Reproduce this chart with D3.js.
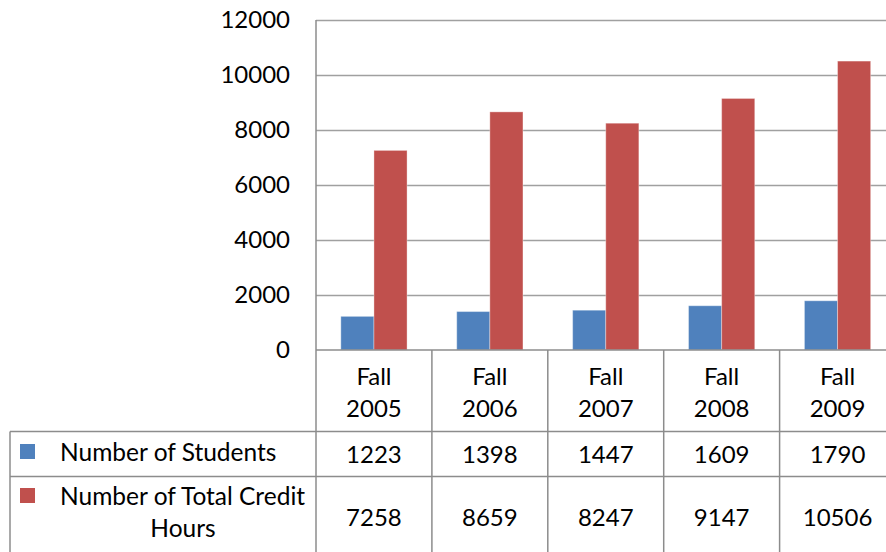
<!DOCTYPE html>
<html>
<head>
<meta charset="utf-8">
<script src="https://cdn.jsdelivr.net/npm/d3@7"></script>
<style>
    body { margin: 0; background: #fff; }
    svg { display: block; font-family: Lato, "Noto Sans", sans-serif; }
</style>
</head>
<body>
<div id="chart-container"></div>
<script>
const categories = ['Fall 2005', 'Fall 2006', 'Fall 2007', 'Fall 2008', 'Fall 2009'];
const seriesNames = ['Number of Students', 'Number of Total Credit Hours'];
const studentCounts = [1223, 1398, 1447, 1609, 1790];
const creditHours = [7258, 8659, 8247, 9147, 10506];
const yTicks = [0, 2000, 4000, 6000, 8000, 10000, 12000];
const seriesColors = ['#4f81bd', '#c0504d'];

const width = 886;
const height = 552;
const plotLeft = 316;
const plotRight = 895.5;
const plotTop = 20;
const plotBottom = 350;
const tableLeft = 10;
const rowLines = [431.5, 476.5, 556];
const fontSize = 24;
const legendFontSize = 24.5;
const gridColor = '#a0a0a0';
const lineColor = '#8c8c8c';

const svg = d3.select('#chart-container')
    .append('svg')
    .attr('width', width)
    .attr('height', height);

const x = d3.scaleBand()
    .domain(categories)
    .range([plotLeft, plotRight]);

const xSeries = d3.scaleBand()
    .domain(seriesNames)
    .range([0, x.bandwidth()])
    .paddingOuter(0.75);

const y = d3.scaleLinear()
    .domain([0, 12000])
    .range([plotBottom, plotTop]);

// gridlines
svg.append('g')
    .selectAll('line')
    .data(yTicks.slice(1))
    .join('line')
    .attr('x1', plotLeft)
    .attr('x2', width)
    .attr('y1', d => Math.round(y(d)) + 0.5)
    .attr('y2', d => Math.round(y(d)) + 0.5)
    .attr('stroke', gridColor)
    .attr('stroke-width', 1.5);

// y axis labels
const yAxis = d3.axisLeft(y)
    .tickValues(yTicks)
    .tickFormat(d3.format('d'))
    .tickSize(0)
    .tickPadding(26);
svg.append('g')
    .attr('transform', `translate(${plotLeft},0)`)
    .call(yAxis)
    .call(g => g.select('.domain').remove())
    .call(g => g.selectAll('text')
        .attr('font-size', fontSize)
        .attr('font-family', 'Lato, sans-serif')
        .attr('fill', '#000'));

// bars
const seriesData = [studentCounts, creditHours];
seriesNames.forEach((name, s) => {
    svg.append('g')
        .selectAll('rect')
        .data(categories)
        .join('rect')
        .attr('x', (d, i) => x(d) + xSeries(name))
        .attr('y', (d, i) => y(seriesData[s][i]))
        .attr('width', xSeries.bandwidth())
        .attr('height', (d, i) => plotBottom - y(seriesData[s][i]))
        .attr('fill', seriesColors[s])
        .attr('stroke', '#fff')
        .attr('stroke-opacity', 0.35)
        .attr('stroke-width', 1);
});

// table lines
const table = svg.append('g')
    .attr('stroke', lineColor)
    .attr('stroke-width', 1.5);

table.append('line')
    .attr('x1', plotLeft).attr('x2', width)
    .attr('y1', plotBottom).attr('y2', plotBottom);

rowLines.forEach(ly => {
    table.append('line')
        .attr('x1', tableLeft).attr('x2', width)
        .attr('y1', ly).attr('y2', ly);
});

table.append('line')
    .attr('x1', tableLeft).attr('x2', tableLeft)
    .attr('y1', rowLines[0]).attr('y2', height);

table.append('line')
    .attr('x1', plotLeft).attr('x2', plotLeft)
    .attr('y1', plotTop).attr('y2', height);

table.selectAll('.cat-line')
    .data(categories.slice(1))
    .join('line')
    .attr('class', 'cat-line')
    .attr('x1', d => x(d)).attr('x2', d => x(d))
    .attr('y1', plotBottom).attr('y2', height);

// category labels
const catLabels = svg.append('g')
    .attr('font-size', fontSize)
    .attr('text-anchor', 'middle');

categories.forEach(c => {
    const parts = c.split(' ');
    const t = catLabels.append('text')
        .attr('dominant-baseline', 'central');
    parts.forEach((p, i) => {
        t.append('tspan')
            .attr('x', x(c) + x.bandwidth() / 2)
            .attr('y', 375 + i * 32)
            .text(p);
    });
});

// value cells
const rowCenters = [453, 516];
seriesData.forEach((values, s) => {
    svg.append('g')
        .attr('font-size', fontSize)
        .attr('text-anchor', 'middle')
        .selectAll('text')
        .data(values)
        .join('text')
        .attr('x', (d, i) => x(categories[i]) + x.bandwidth() / 2)
        .attr('y', rowCenters[s])
        .attr('dominant-baseline', 'central')
        .text(d => d);
});

// legend keys
const legend = svg.append('g').attr('font-size', legendFontSize);

legend.append('rect')
    .attr('x', 20).attr('y', 444)
    .attr('width', 15).attr('height', 15)
    .attr('fill', seriesColors[0]);

legend.append('text')
    .attr('x', 60).attr('y', 451)
    .attr('dominant-baseline', 'central')
    .text(seriesNames[0]);

legend.append('rect')
    .attr('x', 20).attr('y', 488)
    .attr('width', 15).attr('height', 15)
    .attr('fill', seriesColors[1]);

legend.append('text')
    .attr('x', 60).attr('y', 495)
    .attr('dominant-baseline', 'central')
    .text('Number of Total Credit');

legend.append('text')
    .attr('x', 183).attr('y', 527)
    .attr('text-anchor', 'middle')
    .attr('dominant-baseline', 'central')
    .text('Hours');
</script>
</body>
</html>
